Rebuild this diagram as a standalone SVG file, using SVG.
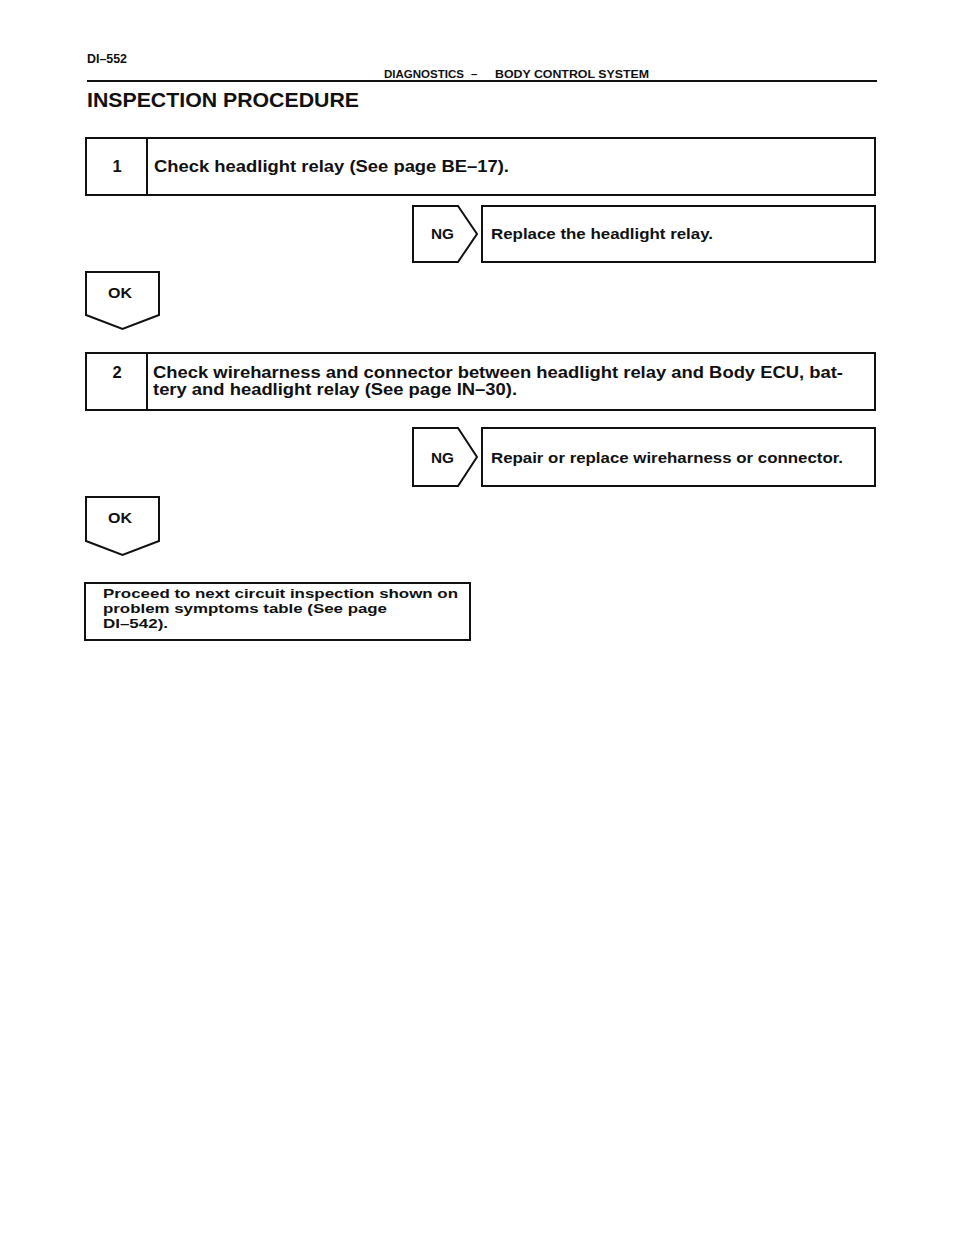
<svg xmlns="http://www.w3.org/2000/svg" width="960" height="1250" viewBox="0 0 960 1250">
<style>
.bg{fill:#ffffff}
.box{fill:none;stroke:#111;stroke-width:2}
.ln{stroke:#111;stroke-width:2;fill:none}
.t{font-family:"Liberation Sans",Arial,Helvetica,sans-serif;font-weight:bold;fill:#111}
.big{font-size:16.5px}
.sm{font-size:15px}
.lab{font-size:15px}
.hd{font-size:11.5px}
.fin{font-size:13.5px}
</style>
<rect class="bg" x="0" y="0" width="960" height="1250"/>
<g id="header">
<text class="t" x="87" y="63" font-size="13" textLength="40" lengthAdjust="spacingAndGlyphs">DI–552</text>
<text class="t hd" x="384" y="78" textLength="80" lengthAdjust="spacingAndGlyphs">DIAGNOSTICS</text>
<text class="t hd" x="471" y="78">–</text>
<text class="t hd" x="495" y="78" textLength="154" lengthAdjust="spacingAndGlyphs">BODY CONTROL SYSTEM</text>
<line class="ln" x1="87" y1="81" x2="877" y2="81" stroke-width="1.8"/>
<text class="t" x="87" y="107" font-size="21" textLength="272" lengthAdjust="spacingAndGlyphs">INSPECTION PROCEDURE</text>
</g>
<g id="step1">
<rect class="box" x="86" y="138" width="789" height="57"/>
<line class="ln" x1="147" y1="138" x2="147" y2="195"/>
<text class="t big" x="117" y="172" text-anchor="middle">1</text>
<text class="t big" x="154" y="172" textLength="355" lengthAdjust="spacingAndGlyphs">Check headlight relay (See page BE–17).</text>
</g>
<g id="result1">
<rect class="box" x="482" y="206" width="393" height="56"/>
<text class="t sm" x="491" y="239" textLength="222" lengthAdjust="spacingAndGlyphs">Replace the headlight relay.</text>
</g>
<g id="step2">
<rect class="box" x="86" y="353" width="789" height="57"/>
<line class="ln" x1="147" y1="353" x2="147" y2="410"/>
<text class="t big" x="117" y="378" text-anchor="middle">2</text>
<text class="t big" x="153" y="378" textLength="690" lengthAdjust="spacingAndGlyphs">Check wireharness and connector between headlight relay and Body ECU, bat-</text>
<text class="t big" x="153" y="395" textLength="364" lengthAdjust="spacingAndGlyphs">tery and headlight relay (See page IN–30).</text>
</g>
<g id="result2">
<rect class="box" x="482" y="428" width="393" height="58"/>
<text class="t sm" x="491" y="463" textLength="352" lengthAdjust="spacingAndGlyphs">Repair or replace wireharness or connector.</text>
</g>
<g id="final">
<rect class="box" x="85" y="583" width="385" height="57"/>
<text class="t fin" x="103" y="598" textLength="355" lengthAdjust="spacingAndGlyphs">Proceed to next circuit inspection shown on</text>
<text class="t fin" x="103" y="613" textLength="284" lengthAdjust="spacingAndGlyphs">problem symptoms table (See page</text>
<text class="t fin" x="103" y="628" textLength="65" lengthAdjust="spacingAndGlyphs">DI–542).</text>
</g>
<g id="connectors">
<g id="ng1">
<polygon class="box" points="413,206 458,206 477,234 458,262 413,262"/>
<text class="t lab" x="431" y="239" textLength="23" lengthAdjust="spacingAndGlyphs">NG</text>
</g>
<g id="ok1">
<polygon class="box" points="86,272 159,272 159,315 122.5,329 86,315"/>
<text class="t lab" x="108" y="298" textLength="24" lengthAdjust="spacingAndGlyphs">OK</text>
</g>
<g id="ng2">
<polygon class="box" points="413,428 458,428 477,457 458,486 413,486"/>
<text class="t lab" x="431" y="463" textLength="23" lengthAdjust="spacingAndGlyphs">NG</text>
</g>
<g id="ok2">
<polygon class="box" points="86,497 159,497 159,541 122.5,555 86,541"/>
<text class="t lab" x="108" y="523" textLength="24" lengthAdjust="spacingAndGlyphs">OK</text>
</g>
</g>
</svg>
